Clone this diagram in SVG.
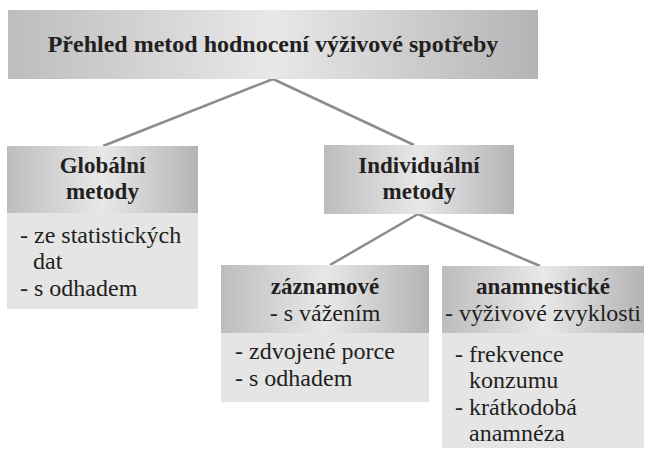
<svg xmlns="http://www.w3.org/2000/svg" width="649" height="452" viewBox="0 0 649 452">
<defs>
<linearGradient id="hg" x1="0" y1="0" x2="1" y2="0">
<stop offset="0" stop-color="#bdbdbe"/>
<stop offset="0.5" stop-color="#e8e8e9"/>
<stop offset="1" stop-color="#b4b4b6"/>
</linearGradient>
</defs>
<style>
.hd{fill:url(#hg);}
.ct{fill:#e5e5e6;}
.b{font-family:'Liberation Serif',Tinos,'Times New Roman',serif;font-weight:bold;fill:#231f20;text-anchor:middle;}
.r{font-family:'Liberation Serif',Tinos,'Times New Roman',serif;fill:#231f20;font-size:24px;}
.c{stroke:#8c8c8e;stroke-width:2.5;fill:none;}
</style>
<rect x="0" y="0" width="649" height="452" fill="#ffffff"/>
<g id="connectors">
<line class="c" x1="273" y1="79" x2="103" y2="146"/>
<line class="c" x1="273" y1="79" x2="414" y2="145"/>
<line class="c" x1="418" y1="214" x2="330" y2="265"/>
<line class="c" x1="418" y1="214" x2="540" y2="266"/>
</g>
<g id="title">
<rect class="hd" x="8" y="10" width="530" height="69"/>
<text class="b" x="273" y="52" font-size="24">Přehled metod hodnocení výživové spotřeby</text>
</g>
<g id="globalni">
<rect class="hd" x="7" y="146" width="191" height="67"/>
<rect class="ct" x="7" y="213" width="191" height="96"/>
<text class="b" x="102.5" y="173" font-size="23">Globální</text>
<text class="b" x="102.5" y="199" font-size="23">metody</text>
<text class="r" x="20" y="243">- ze statistických</text>
<text class="r" x="33" y="269">dat</text>
<text class="r" x="20" y="296">- s odhadem</text>
</g>
<g id="individualni">
<rect class="hd" x="324" y="145" width="190" height="69"/>
<text class="b" x="419" y="173" font-size="23">Individuální</text>
<text class="b" x="419" y="199" font-size="23">metody</text>
</g>
<g id="zaznamove">
<rect class="hd" x="221" y="265" width="208" height="68"/>
<rect class="ct" x="221" y="333" width="208" height="69"/>
<text class="b" x="325" y="294" font-size="23">záznamové</text>
<text class="r" x="325" y="321" text-anchor="middle">- s vážením</text>
<text class="r" x="235" y="359">- zdvojené porce</text>
<text class="r" x="235" y="386">- s odhadem</text>
</g>
<g id="anamnesticke">
<rect class="hd" x="442" y="266" width="202" height="67"/>
<rect class="ct" x="442" y="333" width="202" height="115"/>
<text class="b" x="543" y="294" font-size="23">anamnestické</text>
<text class="r" x="543" y="321" text-anchor="middle" font-size="23.5">- výživové zvyklosti</text>
<text class="r" x="455" y="362">- frekvence</text>
<text class="r" x="469" y="388">konzumu</text>
<text class="r" x="455" y="415">- krátkodobá</text>
<text class="r" x="469" y="441">anamnéza</text>
</g>
</svg>
